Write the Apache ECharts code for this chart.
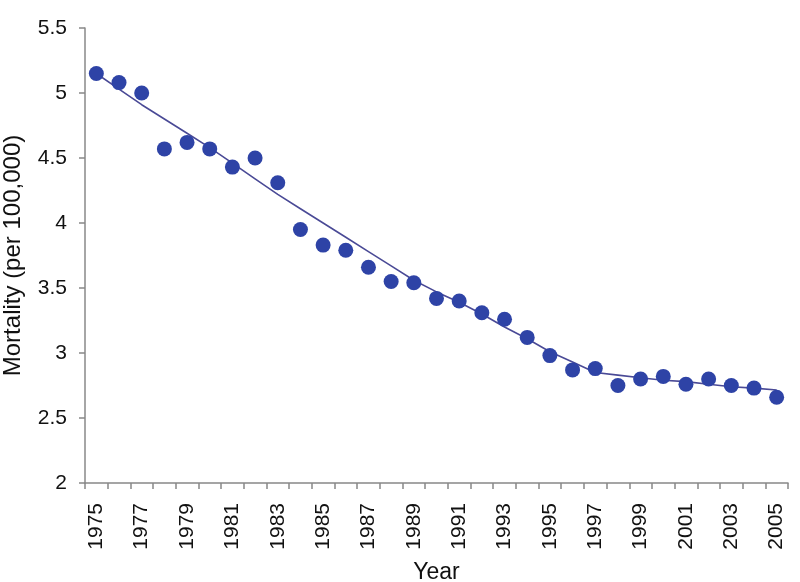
<!DOCTYPE html>
<html>
<head>
<meta charset="utf-8">
<script src="https://cdn.jsdelivr.net/npm/echarts@6/dist/echarts.min.js"></script>
<style>html,body{margin:0;padding:0;background:#fff;}#c{width:800px;height:582px;}</style>
</head>
<body>
<div id="c"></div>
<script>
var years = ['1975','1976','1977','1978','1979','1980','1981','1982','1983','1984','1985','1986','1987','1988','1989','1990','1991','1992','1993','1994','1995','1996','1997','1998','1999','2000','2001','2002','2003','2004','2005'];
var observed = [5.15,5.08,5.00,4.57,4.62,4.57,4.43,4.50,4.31,3.95,3.83,3.79,3.66,3.55,3.54,3.42,3.40,3.31,3.26,3.12,2.98,2.87,2.88,2.75,2.80,2.82,2.76,2.80,2.75,2.73,2.66];
var trend = [5.15,5.03,4.91,4.80,4.69,4.58,4.46,4.34,4.22,4.11,4.00,3.89,3.78,3.67,3.56,3.47,3.39,3.30,3.20,3.11,3.01,2.93,2.85,2.83,2.81,2.79,2.78,2.76,2.74,2.73,2.715];
var yTicks = {min: 2, max: 5.5, interval: 0.5};

var chart = echarts.init(document.getElementById('c'));
var fontFam = 'Liberation Sans, Arial, Helvetica, sans-serif';
chart.setOption({
  animation: false,
  backgroundColor: '#fff',
  grid: {left: 85, right: 12, top: 28, bottom: 99, containLabel: false, outerBoundsMode: 'none'},
  xAxis: {
    type: 'category',
    data: years,
    boundaryGap: true,
    name: 'Year',
    nameLocation: 'middle',
    nameGap: 78,
    nameTextStyle: {fontSize: 23, color: '#111', fontFamily: fontFam},
    axisLine: {lineStyle: {color: '#888', width: 1.5}},
    axisTick: {show: true, inside: false, length: 6, alignWithLabel: false, interval: 0, lineStyle: {color: '#888', width: 1.5}},
    axisLabel: {rotate: 90, interval: 1, fontSize: 21, color: '#111', margin: 20, fontFamily: fontFam},
    splitLine: {show: false}
  },
  yAxis: {
    type: 'value',
    min: yTicks.min,
    max: yTicks.max,
    interval: yTicks.interval,
    name: 'Mortality (per 100,000)',
    nameLocation: 'middle',
    nameRotate: 90,
    nameGap: 60,
    nameTextStyle: {fontSize: 24, color: '#111', fontFamily: fontFam},
    axisLine: {show: true, lineStyle: {color: '#888', width: 1.5}},
    axisTick: {show: true, inside: false, length: 6, lineStyle: {color: '#888', width: 1.5}},
    axisLabel: {fontSize: 21, color: '#111', margin: 18, fontFamily: fontFam},
    splitLine: {show: false}
  },
  series: [
    {
      type: 'line',
      data: trend,
      symbol: 'none',
      smooth: false,
      lineStyle: {color: '#4a4a96', width: 1.6},
      z: 2
    },
    {
      type: 'scatter',
      data: observed,
      symbol: 'circle',
      symbolSize: 15,
      itemStyle: {color: '#2e43a6', opacity: 1},
      z: 3
    }
  ]
});
</script>
</body>
</html>
